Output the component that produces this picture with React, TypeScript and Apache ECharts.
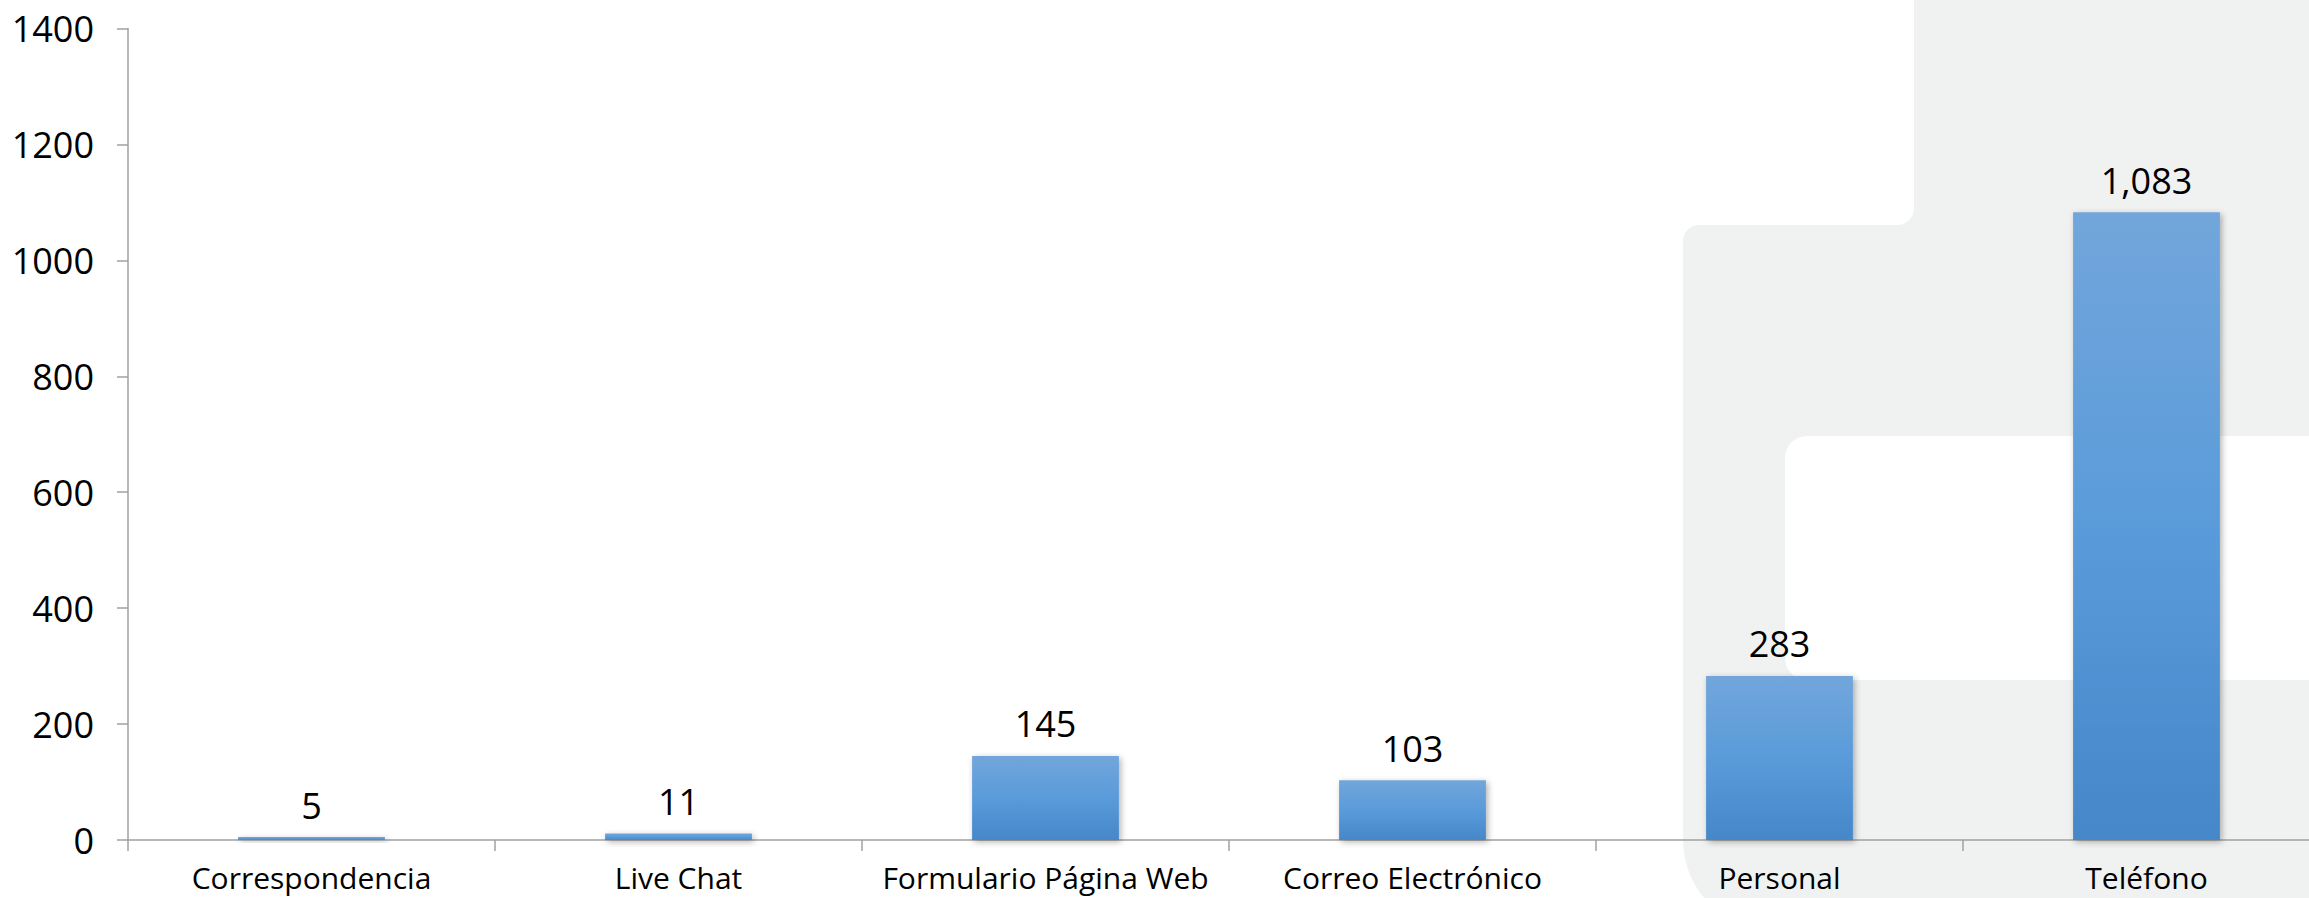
import React, { useEffect, useRef } from "react";
import * as echarts from "echarts";

const categories = [
  "Correspondencia",
  "Live Chat",
  "Formulario Página Web",
  "Correo Electrónico",
  "Personal",
  "Teléfono",
];
const values = [5, 11, 145, 103, 283, 1083];
const yMin = 0;
const yMax = 1400;
const yInterval = 200;

const FONT = "'Open Sans', sans-serif";
const GRAY_BG = "#F0F1F1";

export default function App() {
  const ref = useRef<HTMLDivElement>(null);
  useEffect(() => {
    document.body.style.margin = "0";
    document.body.style.overflow = "hidden";
    const chart = echarts.init(ref.current!, undefined, { renderer: "svg" });
    chart.setOption({
      animation: false,
      backgroundColor: "#ffffff",
      graphic: [
        { type: "rect", z: -10, silent: true, shape: { x: 1914, y: 0, width: 420, height: 898 }, style: { fill: GRAY_BG } },
        { type: "rect", z: -10, silent: true, shape: { x: 1683, y: 225, width: 650, height: 705, r: [16, 0, 0, 90] }, style: { fill: GRAY_BG } },
        { type: "rect", z: -10, silent: true, shape: { x: 1897, y: 208, width: 17, height: 17 }, style: { fill: GRAY_BG } },
        { type: "circle", z: -9, silent: true, shape: { cx: 1897, cy: 208, r: 17 }, style: { fill: "#ffffff" } },
        { type: "rect", z: -9, silent: true, shape: { x: 1785, y: 436, width: 560, height: 244, r: [22, 0, 0, 22] }, style: { fill: "#ffffff" } },
      ],
      grid: { left: 128, top: 28.5, bottom: 58, right: 0, containLabel: false },
      xAxis: {
        type: "category",
        data: categories,
        axisLine: { lineStyle: { color: "#a0a0a0", width: 1.5 } },
        axisTick: { show: true, length: 11, lineStyle: { color: "#a0a0a0", width: 1.5 } },
        axisLabel: { color: "#000", fontSize: 30, fontFamily: FONT, margin: 22, interval: 0 },
      },
      yAxis: {
        type: "value",
        min: yMin,
        max: yMax,
        interval: yInterval,
        axisLine: { show: true, lineStyle: { color: "#a0a0a0", width: 1.5 } },
        axisTick: { show: true, length: 11, lineStyle: { color: "#a0a0a0", width: 1.5 } },
        splitLine: { show: false },
        axisLabel: { color: "#000", fontSize: 36, fontFamily: FONT, margin: 34, formatter: (v: number) => String(v) },
      },
      series: [
        {
          type: "bar",
          data: values,
          barWidth: "40%",
          itemStyle: {
            color: new echarts.graphic.LinearGradient(0, 0, 0, 1, [
              { offset: 0, color: "#72A6DB" },
              { offset: 0.5, color: "#5A9BDA" },
              { offset: 1, color: "#4587C9" },
            ]),
            shadowBlur: 6,
            shadowColor: "rgba(0,0,0,0.3)",
            shadowOffsetX: 2,
            shadowOffsetY: 2,
          },
          label: {
            show: true,
            position: "top",
            distance: 14,
            color: "#000",
            fontSize: 36,
            fontFamily: FONT,
            formatter: (p: any) => Number(p.value).toLocaleString("en-US"),
          },
        },
      ],
    });
    return () => chart.dispose();
  }, []);
  return (
    <div style={{ width: 2309, height: 898, overflow: "hidden" }}>
      <div ref={ref} style={{ width: 2330, height: 898 }} />
    </div>
  );
}
